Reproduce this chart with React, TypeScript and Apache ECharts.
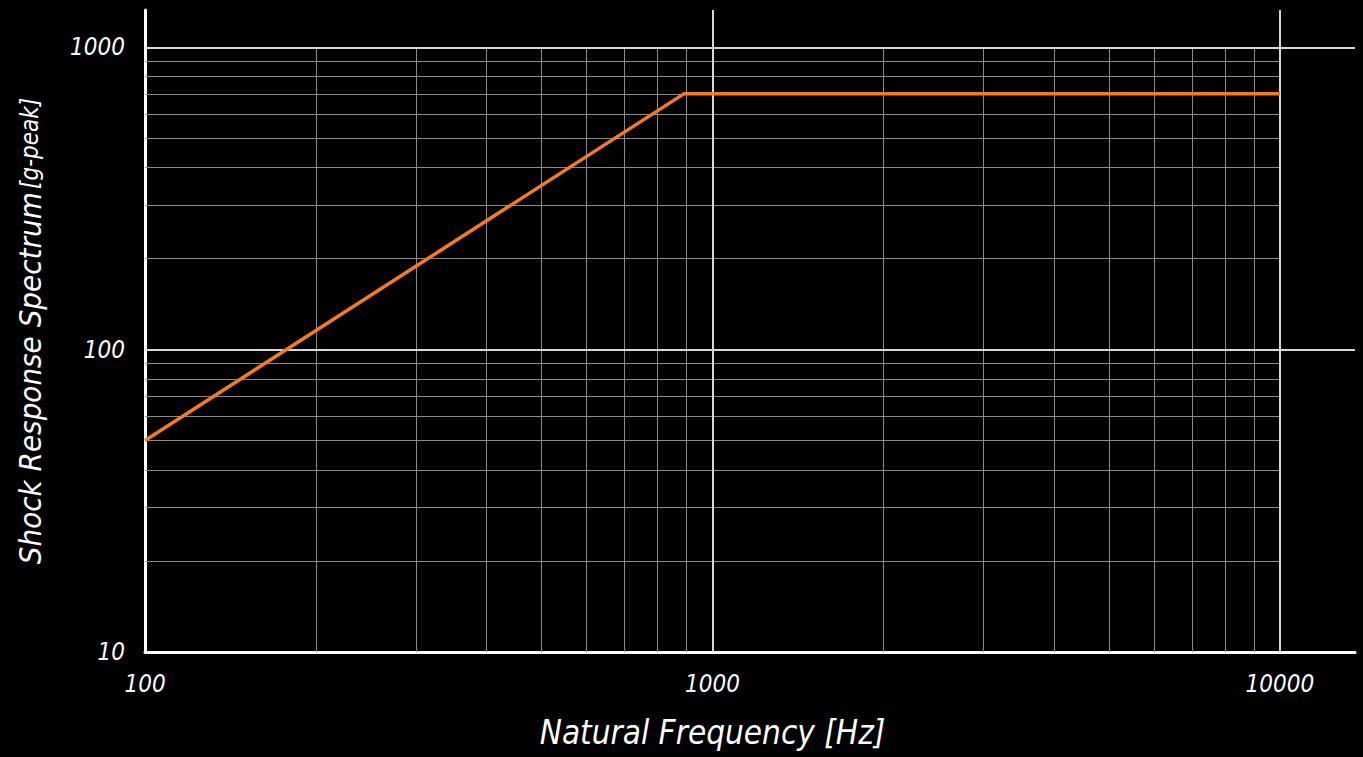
import React, { useEffect, useRef } from "react";
import * as echarts from "echarts";

// Data
const freqHz = [100, 890, 10000];
const srsG = [50, 700, 700];

const majorX = [1000, 10000];
const majorY = [100, 1000];
const minorX = [200, 300, 400, 500, 600, 700, 800, 900, 2000, 3000, 4000, 5000, 6000, 7000, 8000, 9000];
const minorY = [20, 30, 40, 50, 60, 70, 80, 90, 200, 300, 400, 500, 600, 700, 800, 900];

const FONT = '"Liberation Sans Narrow", "DejaVu Sans Condensed", "Roboto", sans-serif';

export default function App() {
  const ref = useRef<HTMLDivElement>(null);
  useEffect(() => {
    document.body.style.margin = "0";
    document.body.style.background = "#000";
    const chart = echarts.init(ref.current!, null, { renderer: "svg" });
    const labelStyle = {
      color: "#ffffff",
      fontFamily: FONT,
      fontStyle: "italic" as const,
      fontSize: 24,
      formatter: (v: number) => String(Math.round(v)),
    };
    const option: any = {
      animation: false,
      backgroundColor: "#000000",
      grid: [
        { left: 145, top: 10, right: 8, bottom: 105, containLabel: false },
        { left: 145, top: 47, width: 1135, bottom: 105, containLabel: false },
      ],
      xAxis: [
        {
          type: "log",
          gridIndex: 0,
          logBase: 10,
          min: 100,
          max: 13560,
          axisLine: { show: true, lineStyle: { color: "#ffffff", width: 3 } },
          axisTick: { show: false },
          splitLine: { show: false },
          axisLabel: { ...labelStyle, margin: 20, showMaxLabel: false },
        },
        {
          type: "log",
          gridIndex: 1,
          logBase: 10,
          min: 100,
          max: 10000,
          axisLine: { show: false },
          axisTick: { show: false },
          splitLine: { show: false },
          axisLabel: { show: false },
          name: "Natural Frequency [Hz]",
          nameLocation: "middle",
          nameGap: 64,
          nameTextStyle: {
            color: "#ffffff",
            fontFamily: FONT,
            fontStyle: "italic",
            fontSize: 33,
          },
        },
      ],
      yAxis: [
        {
          type: "log",
          gridIndex: 0,
          logBase: 10,
          min: 10,
          max: 1328,
          axisLine: { show: true, lineStyle: { color: "#ffffff", width: 3 } },
          axisTick: { show: false },
          splitLine: { show: false },
          axisLabel: { ...labelStyle, margin: 20, showMaxLabel: false },
          name: "{a|Shock Response Spectrum} {b|[g-peak]}",
          nameLocation: "middle",
          nameGap: 100,
          nameTextStyle: {
            color: "#ffffff",
            rich: {
              a: { color: "#ffffff", fontFamily: FONT, fontStyle: "italic", fontSize: 31 },
              b: { color: "#ffffff", fontFamily: FONT, fontStyle: "italic", fontSize: 24 },
            },
          },
        },
        {
          type: "log",
          gridIndex: 1,
          logBase: 10,
          min: 10,
          max: 1000,
          axisLine: { show: false },
          axisTick: { show: false },
          splitLine: { show: false },
          axisLabel: { show: false },
        },
      ],
      series: [
        {
          name: "minor",
          type: "line",
          xAxisIndex: 1,
          yAxisIndex: 1,
          data: [],
          z: 1,
          silent: true,
          markLine: {
            silent: true,
            symbol: "none",
            label: { show: false },
            lineStyle: { color: "#8a8a8a", width: 1, type: "solid" },
            data: [
              ...minorX.map((v) => ({ xAxis: v })),
              ...minorY.map((v) => ({ yAxis: v })),
            ],
          },
        },
        {
          name: "major",
          type: "line",
          xAxisIndex: 0,
          yAxisIndex: 0,
          data: [],
          z: 2,
          silent: true,
          markLine: {
            silent: true,
            symbol: "none",
            label: { show: false },
            lineStyle: { color: "#d8d8d8", width: 2, type: "solid" },
            data: [
              ...majorX.map((v) => ({ xAxis: v })),
              ...majorY.map((v) => ({ yAxis: v })),
            ],
          },
        },
        {
          name: "SRS",
          type: "line",
          xAxisIndex: 1,
          yAxisIndex: 1,
          data: freqHz.map((f, i) => [f, srsG[i]]),
          showSymbol: false,
          symbol: "none",
          z: 5,
          lineStyle: { color: "#f47b20", width: 3.5 },
        },
      ],
    };
    chart.setOption(option);
    return () => chart.dispose();
  }, []);
  return (
    <div
      ref={ref}
      style={{ position: "fixed", left: 0, top: 0, width: 1363, height: 757, background: "#000" }}
    />
  );
}
